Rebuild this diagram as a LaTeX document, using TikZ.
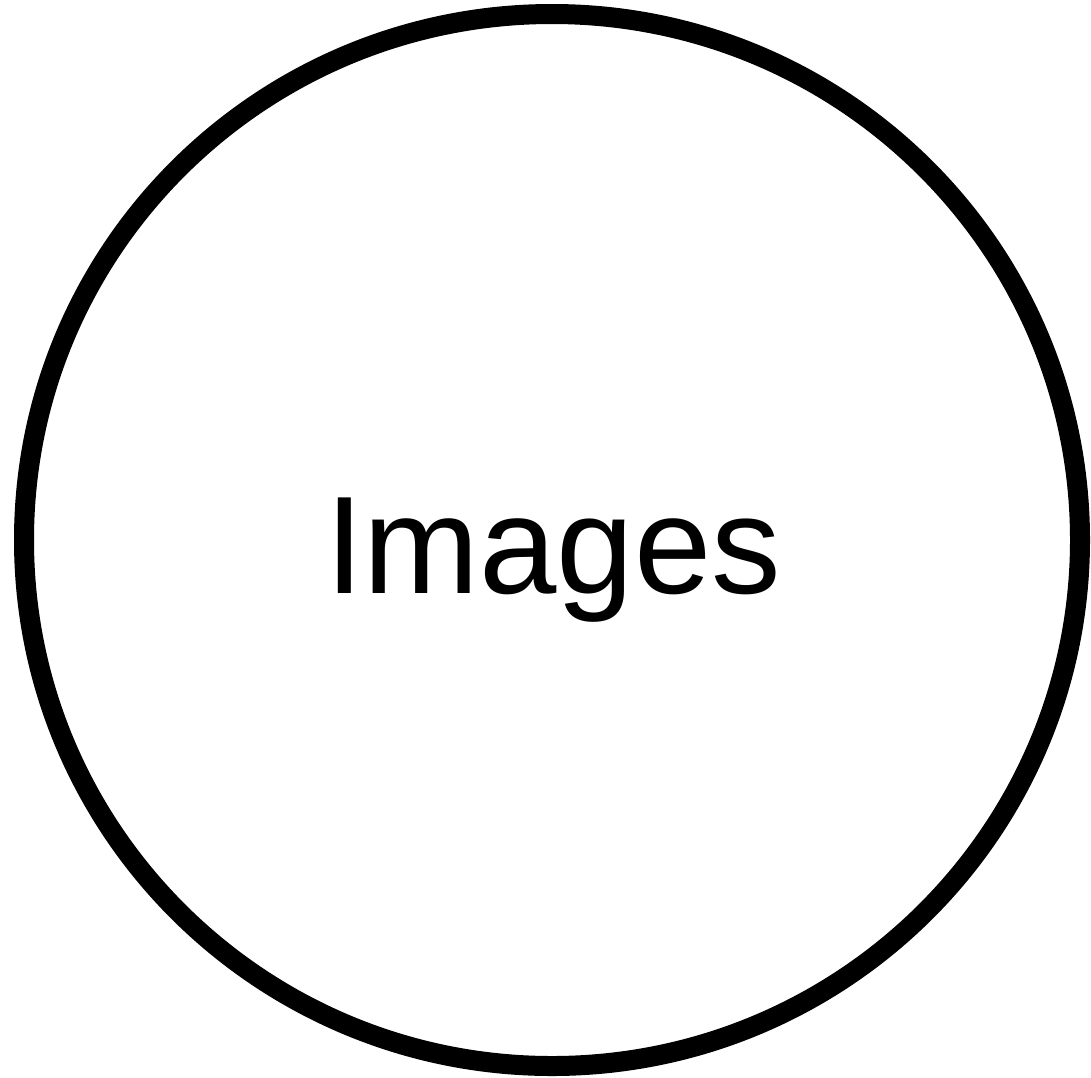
\documentclass[tikz,border=0pt]{standalone}
\usepackage{fontspec}
\setmainfont{Liberation Sans}
\usetikzlibrary{shapes.geometric}
\begin{document}
\begin{tikzpicture}[x=1pt,y=-1pt,
  ring/.style={draw=black,line width=20pt,ellipse,minimum width=1056pt,minimum height=1052pt,inner sep=0pt},
  lbl/.style={font=\fontsize{139}{139}\selectfont,inner sep=0pt,anchor=base}]
\useasboundingbox (0,0) rectangle (1091,1077);
\node[ring] (c) at (552,540) {};
\node[lbl] (t) at (553,593) {Images};
\end{tikzpicture}
\end{document}
